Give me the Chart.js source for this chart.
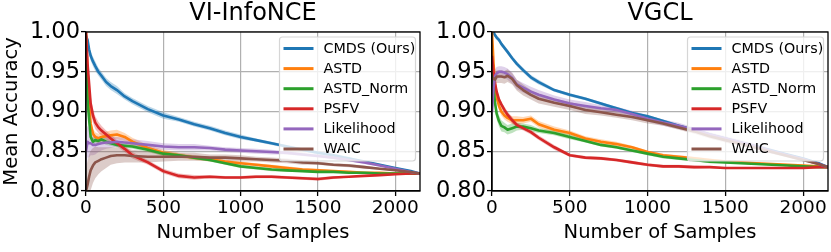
<!DOCTYPE html>
<html>
<head>
<meta charset="utf-8">
<script src="https://cdn.jsdelivr.net/npm/chart.js@4/dist/chart.umd.min.js"></script>
<style>
  html, body { margin: 0; padding: 0; background: #fff; }
  body { width: 831px; height: 252px; position: relative; overflow: hidden; }
  canvas { position: absolute; top: 0; }
  #left { left: 0; }
  #right { left: 423px; }
</style>
</head>
<body>
<canvas id="left" width="423" height="252"></canvas>
<canvas id="right" width="408" height="252"></canvas>
<script>
const samples = [0, 10, 20, 30, 45, 60, 80, 100, 130, 160, 200, 250, 300, 400, 500, 600, 700, 800, 900, 1000, 1100, 1200, 1300, 1400, 1500, 1600, 1700, 1800, 1900, 2000, 2100, 2160];
const xTicks = [0, 500, 1000, 1500, 2000];
const yTicks = [0.80, 0.85, 0.90, 0.95, 1.00];
const methods = ['CMDS (Ours)', 'ASTD', 'ASTD_Norm', 'PSFV', 'Likelihood', 'WAIC'];
const colors = ['#1f77b4', '#ff7f0e', '#2ca02c', '#d62728', '#9467bd', '#8c564b'];

// VI-InfoNCE
const viCmds = [0.995, 0.990, 0.978, 0.970, 0.963, 0.957, 0.950, 0.945, 0.937, 0.932, 0.927, 0.919, 0.913, 0.903, 0.895, 0.890, 0.884, 0.879, 0.873, 0.868, 0.864, 0.860, 0.856, 0.852, 0.848, 0.845, 0.841, 0.837, 0.833, 0.829, 0.825, 0.822];
const viAstd = [1.000, 0.950, 0.910, 0.885, 0.872, 0.868, 0.866, 0.868, 0.869, 0.870, 0.871, 0.868, 0.862, 0.854, 0.848, 0.845, 0.842, 0.840, 0.837, 0.835, 0.833, 0.831, 0.829, 0.827, 0.826, 0.825, 0.824, 0.823, 0.823, 0.822, 0.822, 0.822];
const viAstdNorm = [0.960, 0.915, 0.890, 0.868, 0.862, 0.864, 0.863, 0.865, 0.862, 0.860, 0.858, 0.857, 0.856, 0.852, 0.847, 0.845, 0.842, 0.839, 0.835, 0.831, 0.829, 0.827, 0.826, 0.825, 0.824, 0.824, 0.823, 0.823, 0.822, 0.822, 0.822, 0.822];
const viPsfv = [1.000, 0.960, 0.935, 0.910, 0.895, 0.886, 0.880, 0.876, 0.871, 0.866, 0.860, 0.853, 0.845, 0.836, 0.825, 0.819, 0.817, 0.818, 0.817, 0.817, 0.818, 0.818, 0.817, 0.816, 0.815, 0.817, 0.818, 0.819, 0.820, 0.821, 0.822, 0.822];
const viLikelihood = [0.850, 0.862, 0.860, 0.860, 0.858, 0.858, 0.859, 0.860, 0.861, 0.861, 0.862, 0.861, 0.860, 0.858, 0.856, 0.855, 0.855, 0.854, 0.852, 0.851, 0.850, 0.849, 0.848, 0.846, 0.844, 0.842, 0.839, 0.836, 0.832, 0.828, 0.824, 0.822];
const viWaic = [0.800, 0.808, 0.818, 0.826, 0.832, 0.836, 0.838, 0.840, 0.842, 0.844, 0.845, 0.845, 0.844, 0.843, 0.843, 0.843, 0.843, 0.842, 0.842, 0.841, 0.840, 0.839, 0.838, 0.836, 0.835, 0.833, 0.832, 0.830, 0.828, 0.826, 0.824, 0.822];

// half width of the shaded bands
const viCmdsBand = [0.006, 0.006, 0.006, 0.006, 0.006, 0.006, 0.005, 0.005, 0.005, 0.005, 0.005, 0.004, 0.004, 0.004, 0.004, 0.003, 0.003, 0.003, 0.003, 0.003, 0.002, 0.002, 0.002, 0.002, 0.002, 0.002, 0.002, 0.001, 0.001, 0.001, 0.001, 0.000];
const viAstdBand = [0.000, 0.006, 0.006, 0.006, 0.006, 0.006, 0.006, 0.006, 0.006, 0.006, 0.006, 0.005, 0.005, 0.004, 0.004, 0.003, 0.003, 0.003, 0.002, 0.002, 0.002, 0.002, 0.002, 0.002, 0.002, 0.001, 0.001, 0.001, 0.001, 0.001, 0.001, 0.000];
const viAstdNormBand = [0.010, 0.008, 0.006, 0.005, 0.005, 0.004, 0.004, 0.004, 0.004, 0.003, 0.003, 0.003, 0.003, 0.003, 0.003, 0.002, 0.002, 0.002, 0.002, 0.002, 0.002, 0.002, 0.002, 0.001, 0.001, 0.001, 0.001, 0.001, 0.001, 0.001, 0.001, 0.000];
const viPsfvBand = [0.000, 0.010, 0.010, 0.010, 0.009, 0.008, 0.007, 0.006, 0.005, 0.005, 0.004, 0.004, 0.004, 0.003, 0.003, 0.003, 0.003, 0.002, 0.002, 0.002, 0.002, 0.002, 0.002, 0.002, 0.002, 0.002, 0.001, 0.001, 0.001, 0.001, 0.001, 0.000];
const viLikelihoodBand = [0.025, 0.020, 0.018, 0.015, 0.013, 0.012, 0.010, 0.009, 0.008, 0.007, 0.006, 0.006, 0.005, 0.005, 0.004, 0.004, 0.004, 0.003, 0.003, 0.003, 0.003, 0.003, 0.002, 0.002, 0.002, 0.002, 0.002, 0.002, 0.001, 0.001, 0.001, 0.000];
const viWaicBand = [0.030, 0.030, 0.028, 0.025, 0.022, 0.020, 0.017, 0.015, 0.013, 0.011, 0.010, 0.009, 0.008, 0.007, 0.006, 0.005, 0.005, 0.004, 0.004, 0.004, 0.003, 0.003, 0.003, 0.003, 0.002, 0.002, 0.002, 0.002, 0.001, 0.001, 0.001, 0.000];

// VGCL
const vgCmds = [1.000, 0.999, 0.996, 0.993, 0.990, 0.985, 0.980, 0.975, 0.967, 0.960, 0.952, 0.943, 0.937, 0.927, 0.921, 0.916, 0.910, 0.904, 0.898, 0.894, 0.888, 0.882, 0.877, 0.871, 0.866, 0.861, 0.856, 0.851, 0.846, 0.841, 0.835, 0.830];
const vgAstd = [1.000, 0.960, 0.932, 0.918, 0.907, 0.900, 0.895, 0.892, 0.889, 0.889, 0.889, 0.891, 0.884, 0.877, 0.873, 0.866, 0.862, 0.859, 0.855, 0.849, 0.845, 0.843, 0.841, 0.839, 0.837, 0.836, 0.835, 0.834, 0.833, 0.832, 0.831, 0.830];
const vgAstdNorm = [0.960, 0.930, 0.910, 0.897, 0.888, 0.882, 0.880, 0.877, 0.879, 0.881, 0.881, 0.879, 0.876, 0.873, 0.868, 0.863, 0.858, 0.855, 0.851, 0.847, 0.843, 0.841, 0.839, 0.837, 0.836, 0.835, 0.834, 0.833, 0.832, 0.831, 0.830, 0.830];
const vgPsfv = [0.970, 0.950, 0.935, 0.925, 0.915, 0.909, 0.902, 0.896, 0.889, 0.883, 0.879, 0.874, 0.867, 0.855, 0.845, 0.842, 0.841, 0.839, 0.836, 0.833, 0.831, 0.831, 0.830, 0.830, 0.829, 0.829, 0.829, 0.829, 0.829, 0.829, 0.830, 0.830];
const vgLikelihood = [0.900, 0.930, 0.945, 0.948, 0.950, 0.950, 0.949, 0.947, 0.942, 0.934, 0.930, 0.925, 0.921, 0.915, 0.910, 0.907, 0.904, 0.902, 0.897, 0.891, 0.886, 0.882, 0.877, 0.871, 0.866, 0.861, 0.856, 0.850, 0.845, 0.840, 0.834, 0.830];
const vgWaic = [0.940, 0.942, 0.940, 0.944, 0.944, 0.944, 0.943, 0.945, 0.941, 0.933, 0.927, 0.921, 0.916, 0.911, 0.907, 0.902, 0.899, 0.896, 0.893, 0.889, 0.885, 0.880, 0.875, 0.869, 0.864, 0.859, 0.854, 0.849, 0.844, 0.839, 0.834, 0.830];

const vgCmdsBand = [0.000, 0.003, 0.003, 0.003, 0.003, 0.003, 0.003, 0.003, 0.003, 0.003, 0.003, 0.003, 0.003, 0.002, 0.002, 0.002, 0.002, 0.002, 0.002, 0.002, 0.002, 0.002, 0.002, 0.002, 0.002, 0.002, 0.002, 0.001, 0.001, 0.001, 0.001, 0.000];
const vgAstdBand = [0.000, 0.005, 0.005, 0.005, 0.005, 0.005, 0.005, 0.005, 0.005, 0.005, 0.004, 0.004, 0.004, 0.004, 0.003, 0.003, 0.003, 0.003, 0.002, 0.002, 0.002, 0.002, 0.002, 0.002, 0.002, 0.002, 0.001, 0.001, 0.001, 0.001, 0.001, 0.000];
const vgAstdNormBand = [0.006, 0.006, 0.007, 0.007, 0.007, 0.007, 0.006, 0.006, 0.006, 0.005, 0.004, 0.004, 0.003, 0.003, 0.003, 0.002, 0.002, 0.002, 0.002, 0.002, 0.002, 0.002, 0.002, 0.002, 0.001, 0.001, 0.001, 0.001, 0.001, 0.001, 0.001, 0.000];
const vgPsfvBand = [0.004, 0.005, 0.005, 0.005, 0.004, 0.004, 0.004, 0.004, 0.004, 0.003, 0.003, 0.003, 0.003, 0.003, 0.002, 0.002, 0.002, 0.002, 0.002, 0.002, 0.002, 0.002, 0.002, 0.001, 0.001, 0.001, 0.001, 0.001, 0.001, 0.001, 0.001, 0.000];
const vgLikelihoodBand = [0.010, 0.009, 0.008, 0.008, 0.007, 0.007, 0.007, 0.007, 0.007, 0.006, 0.006, 0.006, 0.006, 0.005, 0.005, 0.005, 0.004, 0.004, 0.004, 0.004, 0.004, 0.004, 0.003, 0.003, 0.003, 0.003, 0.003, 0.003, 0.002, 0.002, 0.002, 0.000];
const vgWaicBand = [0.008, 0.008, 0.008, 0.008, 0.008, 0.008, 0.008, 0.008, 0.007, 0.007, 0.007, 0.006, 0.006, 0.005, 0.005, 0.005, 0.004, 0.004, 0.004, 0.004, 0.003, 0.003, 0.003, 0.003, 0.003, 0.003, 0.002, 0.002, 0.002, 0.002, 0.001, 0.000];

const FONT = "'DejaVu Sans', sans-serif";
Chart.defaults.font.family = FONT;
Chart.defaults.color = '#000';

const hexToRgba = (hex, a) => {
  const n = parseInt(hex.slice(1), 16);
  return `rgba(${(n >> 16) & 255}, ${(n >> 8) & 255}, ${n & 255}, ${a})`;
};

// matplotlib-like title, frame and legend drawn on the canvas
const decorPlugin = {
  id: 'decor',
  afterDatasetsDraw(chart) {
    const { ctx, chartArea: a } = chart;
    ctx.save();
    ctx.strokeStyle = '#000';
    ctx.lineWidth = 1.3;
    ctx.strokeRect(a.left, a.top, a.right - a.left, a.bottom - a.top);
    ctx.restore();
  },
  afterDraw(chart, args, opts) {
    const { ctx, chartArea: a } = chart;
    ctx.save();
    ctx.fillStyle = '#000';
    ctx.font = `24px ${FONT}`;
    ctx.textAlign = 'center';
    ctx.textBaseline = 'middle';
    ctx.fillText(opts.title, (a.left + a.right) / 2, 14);

    const w = 136, h = 124, r = 3;
    const bx = a.right - 4.5 - w, by = a.top + 5;
    ctx.beginPath();
    ctx.moveTo(bx + r, by);
    ctx.arcTo(bx + w, by, bx + w, by + h, r);
    ctx.arcTo(bx + w, by + h, bx, by + h, r);
    ctx.arcTo(bx, by + h, bx, by, r);
    ctx.arcTo(bx, by, bx + w, by, r);
    ctx.closePath();
    ctx.fillStyle = 'rgba(255, 255, 255, 0.8)';
    ctx.fill();
    ctx.strokeStyle = '#d6d6d6';
    ctx.lineWidth = 1.2;
    ctx.stroke();

    ctx.font = `14.3px ${FONT}`;
    ctx.textAlign = 'left';
    methods.forEach((name, i) => {
      const y = by + 11.5 + i * 20.1;
      ctx.strokeStyle = colors[i];
      ctx.lineWidth = 3;
      ctx.beginPath();
      ctx.moveTo(bx + 4, y);
      ctx.lineTo(bx + 34, y);
      ctx.stroke();
      ctx.fillStyle = '#000';
      ctx.fillText(name, bx + 44, y + 0.5);
    });
    ctx.restore();
  }
};

function buildChart({ canvasId, title, means, bands, yWidth, yTitle }) {
  const datasets = [];
  means.forEach((mean, i) => {
    const band = bands[i];
    datasets.push({
      data: samples.map((x, k) => ({ x, y: mean[k] + band[k] })),
      borderColor: 'transparent',
      borderWidth: 0,
      backgroundColor: hexToRgba(colors[i], 0.3),
      fill: '+1',
      order: 20 - i,
    });
    datasets.push({
      data: samples.map((x, k) => ({ x, y: mean[k] - band[k] })),
      borderColor: 'transparent',
      borderWidth: 0,
      fill: false,
      order: 20 - i,
    });
    datasets.push({
      label: methods[i],
      data: samples.map((x, k) => ({ x, y: mean[k] })),
      borderColor: colors[i],
      borderWidth: 2.6,
      fill: false,
      order: 5 - i,
    });
  });

  return new Chart(document.getElementById(canvasId), {
    type: 'line',
    data: { datasets },
    plugins: [decorPlugin],
    options: {
      responsive: false,
      animation: false,
      devicePixelRatio: 1,
      elements: { point: { radius: 0 }, line: { tension: 0, borderJoinStyle: 'round' } },
      layout: { padding: { left: 0, right: 3, top: 32, bottom: 0 } },
      plugins: {
        legend: { display: false },
        tooltip: { enabled: false },
        decor: { title },
      },
      scales: {
        x: {
          type: 'linear',
          min: 0,
          max: 2160,
          afterBuildTicks: (s) => { s.ticks = xTicks.map((value) => ({ value })); },
          afterFit: (s) => { s.height = 61; },
          grid: { color: '#b0b0b0', lineWidth: 1.2, tickColor: '#000', tickLength: 5, tickWidth: 1.3 },
          border: { color: '#000', width: 1.3 },
          ticks: { font: { size: 18.5 }, padding: 1, maxRotation: 0, autoSkip: false, callback: (v) => String(v) },
          title: { display: true, text: 'Number of Samples', font: { size: 19.5 }, padding: { top: 0, bottom: 7 } },
        },
        y: {
          type: 'linear',
          min: 0.8,
          max: 1.0,
          afterBuildTicks: (s) => { s.ticks = yTicks.map((value) => ({ value })); },
          afterFit: (s) => { s.width = yWidth; },
          grid: { color: '#b0b0b0', lineWidth: 1.2, tickColor: '#000', tickLength: 5, tickWidth: 1.3 },
          border: { color: '#000', width: 1.3 },
          ticks: { font: { size: 22.5 }, padding: 1, autoSkip: false, callback: (v) => v.toFixed(2) },
          title: { display: yTitle, text: 'Mean Accuracy', font: { size: 19.5 }, padding: { top: 0, bottom: 0 } },
        },
      },
    },
  });
}

buildChart({
  canvasId: 'left',
  title: 'VI-InfoNCE',
  means: [viCmds, viAstd, viAstdNorm, viPsfv, viLikelihood, viWaic],
  bands: [viCmdsBand, viAstdBand, viAstdNormBand, viPsfvBand, viLikelihoodBand, viWaicBand],
  yWidth: 86,
  yTitle: true,
});

buildChart({
  canvasId: 'right',
  title: 'VGCL',
  means: [vgCmds, vgAstd, vgAstdNorm, vgPsfv, vgLikelihood, vgWaic],
  bands: [vgCmdsBand, vgAstdBand, vgAstdNormBand, vgPsfvBand, vgLikelihoodBand, vgWaicBand],
  yWidth: 69,
  yTitle: false,
});
</script>
</body>
</html>
